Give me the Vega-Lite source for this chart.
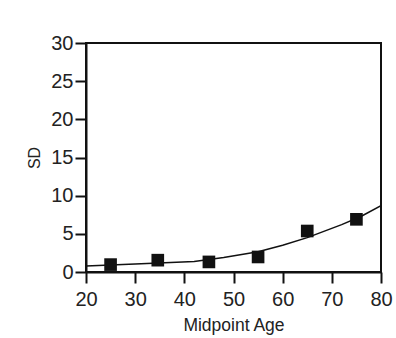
{
  "$schema": "https://vega.github.io/schema/vega-lite/v6.json",
  "autosize": {"type": "none"},
  "width": 295,
  "height": 229,
  "padding": {"left": 86, "top": 43, "right": 15, "bottom": 66},
  "background": "white",
  "config": {
    "view": {"stroke": "#111", "strokeWidth": 2},
    "font": "Liberation Sans",
    "axis": {
      "grid": false,
      "domainColor": "#111",
      "domainWidth": 2,
      "tickColor": "#111",
      "tickWidth": 2,
      "tickSize": 11,
      "labelColor": "#222",
      "labelFontSize": 20,
      "labelOverlap": false,
      "labelFlush": false,
      "labelBound": false,
      "titleFontSize": 17.5,
      "titleFontWeight": "normal",
      "titleColor": "#222",
      "labelFont": "Liberation Sans",
      "titleFont": "Liberation Sans"
    }
  },
  "datasets": {
    "points": [
      {"age": 25, "sd": 0.97},
      {"age": 34.6, "sd": 1.55},
      {"age": 45, "sd": 1.32},
      {"age": 55, "sd": 1.97},
      {"age": 65, "sd": 5.37},
      {"age": 75, "sd": 6.9}
    ],
    "fit": [
      {"age": 20, "sd": 0.8},
      {"age": 30, "sd": 1.05},
      {"age": 42, "sd": 1.38},
      {"age": 48, "sd": 1.9},
      {"age": 55, "sd": 2.65},
      {"age": 60, "sd": 3.5},
      {"age": 65, "sd": 4.5},
      {"age": 72, "sd": 6.2},
      {"age": 76, "sd": 7.3},
      {"age": 80, "sd": 8.7}
    ]
  },
  "encoding": {
    "x": {"field": "age", "type": "quantitative", "scale": {"domain": [20, 80]}, "axis": {"values": [20, 30, 40, 50, 60, 70, 80], "title": "Midpoint Age", "labelPadding": 6, "titlePadding": 7}},
    "y": {"field": "sd", "type": "quantitative", "scale": {"domain": [0, 30]}, "axis": {"values": [0, 5, 10, 15, 20, 25, 30], "tickCount": 7, "title": "SD", "labelPadding": 2, "titlePadding": 8, "titleFontSize": 16}}
  },
  "layer": [
    {
      "data": {"name": "fit"},
      "mark": {"type": "line", "color": "#111", "strokeWidth": 1.5, "clip": true}
    },
    {
      "data": {"name": "points"},
      "mark": {"type": "point", "shape": "square", "filled": true, "size": 160, "color": "#111", "opacity": 1}
    }
  ]
}
